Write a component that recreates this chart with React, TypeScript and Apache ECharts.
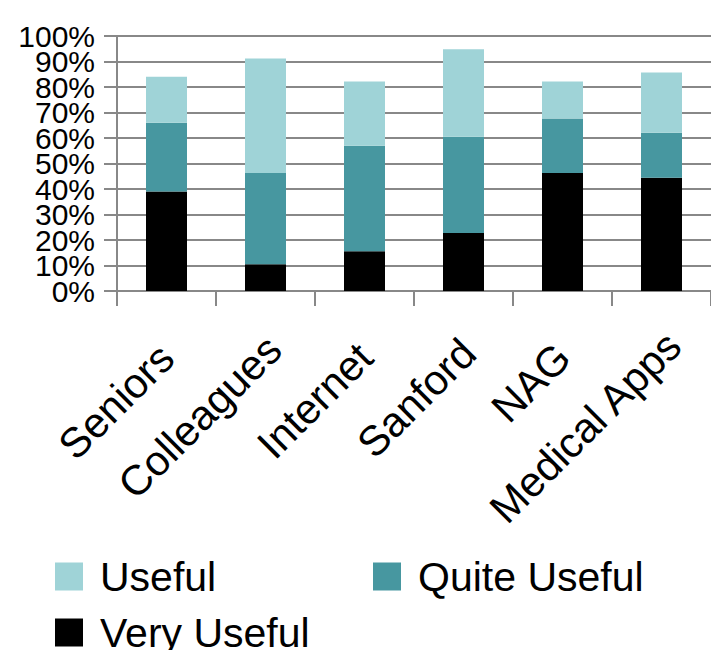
import React, { useEffect, useRef } from "react";
import * as echarts from "echarts";

const categories = ["Seniors", "Colleagues", "Internet", "Sanford", "NAG", "Medical Apps"];
const veryUseful = [39, 10.5, 15.6, 22.7, 46.3, 44.4];
const quiteUseful = [27, 35.8, 41.4, 37.8, 21.3, 17.7];
const useful = [18, 44.9, 25.2, 34.3, 14.6, 23.6];
const yTicks = [0, 10, 20, 30, 40, 50, 60, 70, 80, 90, 100];
// nudges of each rotated category label (along its direction / perpendicular), as in the reference
const labelAlong = [0, 12, 1, 7, 1, 17];
const labelDown = [0, 8, 0, 5, 0, 16];

const FONT = "'Liberation Sans', Arial, sans-serif";
const GRAY = "#888888";
const C_USEFUL = "#9FD3D7";
const C_QUITE = "#4797A0";
const C_VERY = "#000000";

export default function App() {
  const ref = useRef<HTMLDivElement>(null);
  useEffect(() => {
    if (!ref.current) return;
    const chart = echarts.init(ref.current, undefined, { renderer: "svg" });
    const legendBase = {
      orient: "horizontal",
      icon: "rect",
      itemWidth: 28,
      itemHeight: 28,
      textStyle: { fontSize: 41, color: "#000", fontFamily: FONT, padding: [0, 0, 0, 12] },
      selectedMode: false,
    };
    const catData = categories.map((c, i) => {
      const a = labelAlong[i];
      const d = labelDown[i];
      return a || d ? { value: c, textStyle: { padding: [2 * d, -a, 0, 0] } } : c;
    });
    const yMin = yTicks[0];
    const yMax = yTicks[yTicks.length - 1];
    const yLabelBase = {
      fontSize: 30,
      color: "#000",
      fontFamily: FONT,
      margin: 22,
      showMinLabel: true,
      showMaxLabel: true,
      hideOverlap: false,
    };
    chart.setOption({
      animation: false,
      textStyle: { fontFamily: FONT },
      grid: { left: 117, top: 36, width: 600, height: 255, containLabel: false },
      legend: [
        { ...legendBase, left: 50, top: 551, data: ["Useful"] },
        { ...legendBase, left: 368, top: 551, data: ["Quite Useful"] },
        { ...legendBase, left: 50, top: 607, data: ["Very Useful"] },
      ],
      xAxis: {
        type: "category",
        data: catData,
        boundaryGap: true,
        axisLine: { show: true, lineStyle: { color: GRAY, width: 2 } },
        axisTick: { show: true, length: 15, lineStyle: { color: GRAY, width: 2 } },
        axisLabel: {
          interval: 0,
          rotate: 45,
          fontSize: 42,
          color: "#000",
          fontFamily: FONT,
          margin: 60,
          hideOverlap: false,
        },
      },
      yAxis: [
        {
          type: "value",
          min: yMin,
          max: yMax,
          interval: 10,
          axisLine: { show: true, lineStyle: { color: GRAY, width: 2 } },
          axisTick: { show: true, length: 13, lineStyle: { color: GRAY, width: 2 } },
          splitLine: { show: true, showMinLine: true, showMaxLine: true, lineStyle: { color: GRAY, width: 2 } },
          axisLabel: {
            ...yLabelBase,
            formatter: (v: number) => (Math.round(v) % 20 === 0 ? `${v}%` : ""),
          },
        },
        {
          type: "value",
          position: "left",
          min: yMin,
          max: yMax,
          interval: 10,
          axisLine: { show: false },
          axisTick: { show: false },
          splitLine: { show: false },
          axisLabel: {
            ...yLabelBase,
            formatter: (v: number) => (Math.round(v) % 20 === 10 ? `${v}%` : ""),
          },
        },
      ],
      series: [
        { name: "Very Useful", type: "bar", stack: "total", barWidth: 41, data: veryUseful, itemStyle: { color: C_VERY } },
        { name: "Quite Useful", type: "bar", stack: "total", barWidth: 41, data: quiteUseful, itemStyle: { color: C_QUITE } },
        { name: "Useful", type: "bar", stack: "total", barWidth: 41, data: useful, itemStyle: { color: C_USEFUL } },
      ],
    });
    return () => chart.dispose();
  }, []);
  return <div ref={ref} style={{ width: 711, height: 650, position: "absolute", left: 0, top: 0 }} />;
}
